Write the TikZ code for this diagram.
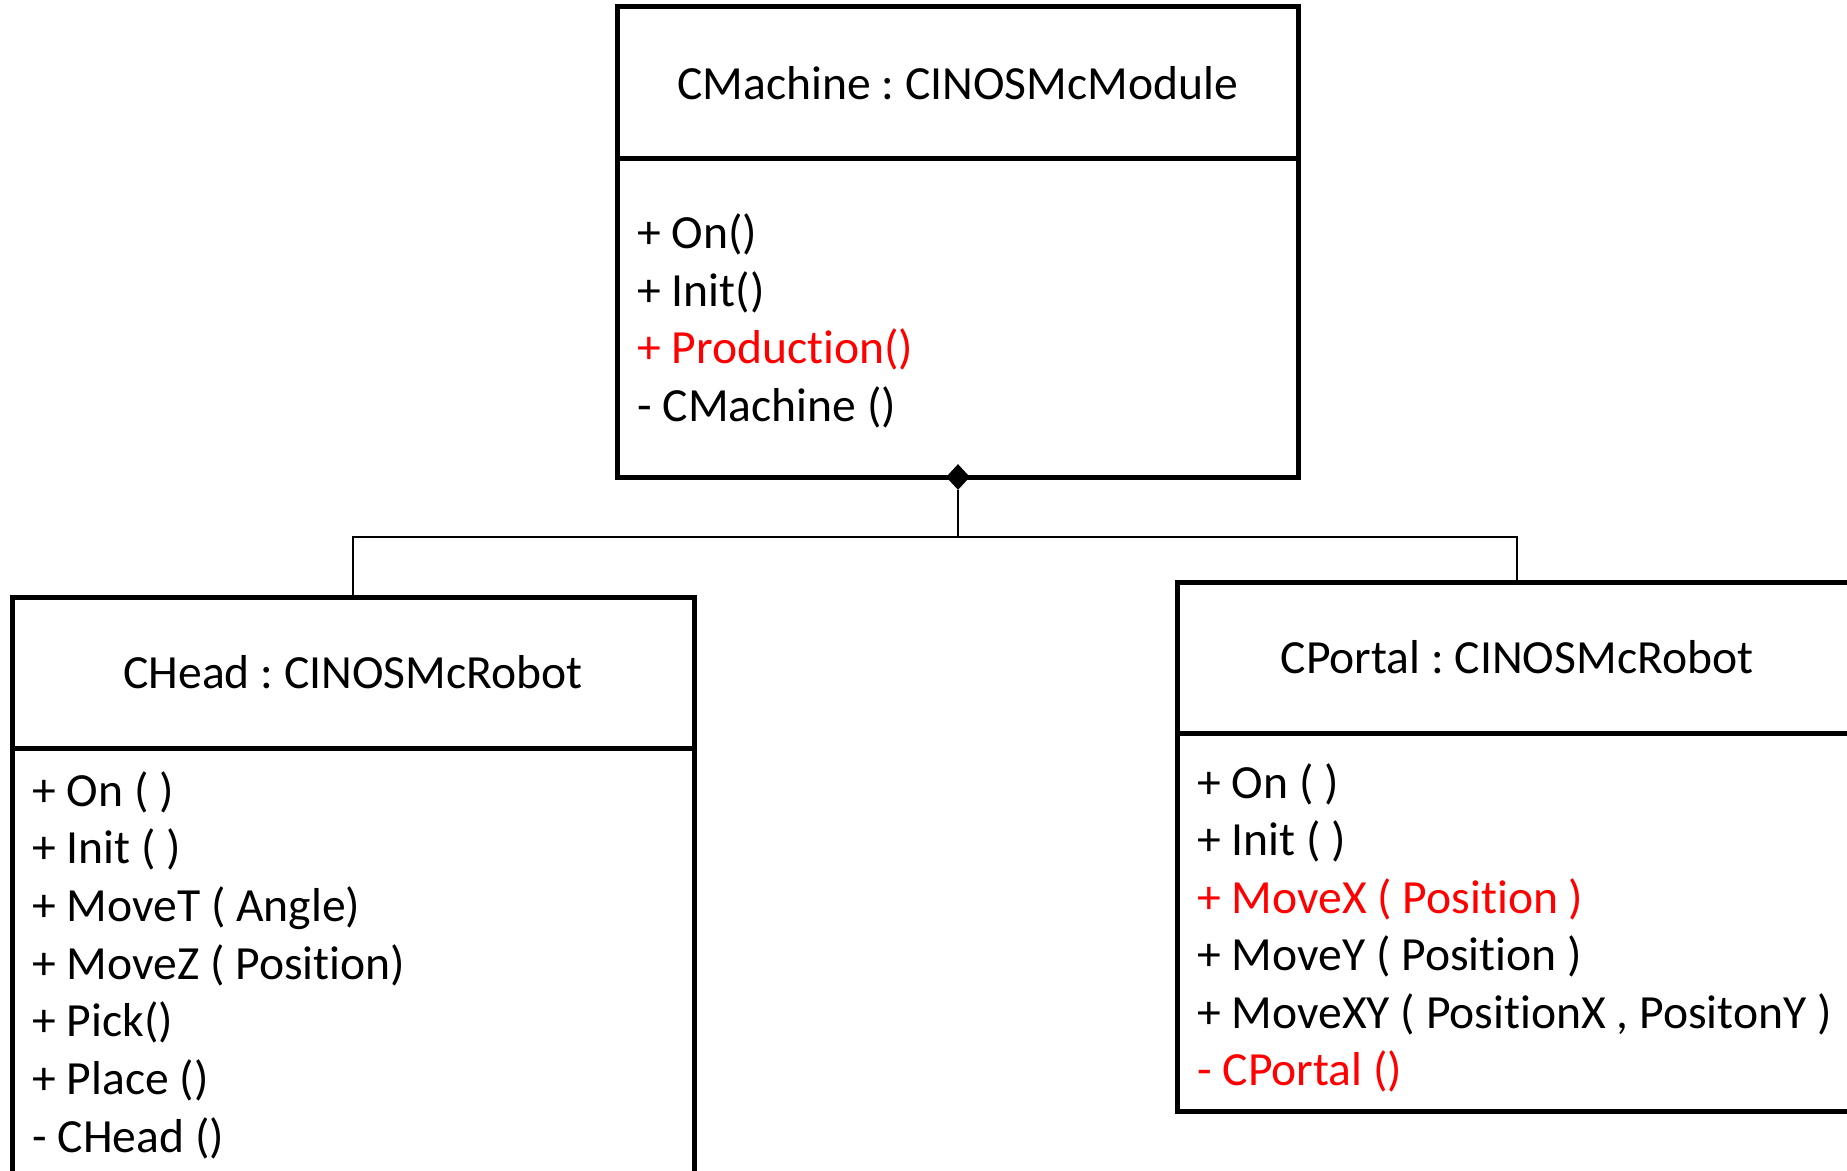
\documentclass[tikz,border=0pt]{standalone}
\usepackage{fontspec}
\setmainfont{Carlito}[Ligatures=NoCommon]
\usetikzlibrary{shapes.geometric}
\frenchspacing
\begin{document}
\begin{tikzpicture}[x=0.5pt,y=-0.5pt,
  umlfont/.style={font=\fontsize{23.8}{28}\selectfont},
  box/.style={draw,line width=2.5pt,rectangle,inner sep=0pt,outer sep=0pt,umlfont},
  lbl/.style={umlfont,inner sep=0pt,anchor=base west},
  hl/.style={text=red},
  conn/.style={line width=1.1pt},
  comp/.style={diamond,fill=black,inner sep=0pt,minimum width=12pt,minimum height=13pt}]
\useasboundingbox (0,0) rectangle (1847,1171);
\clip (0,0) rectangle (1847,1171);

% CMachine
\node[box,minimum width=340.5pt,minimum height=76pt] (mach-h) at (957.5,83) {CMachine : CINOSMcModule};
\node[box,minimum width=340.5pt,minimum height=159pt,anchor=north] (mach-b) at (mach-h.south) {};
\node[lbl] (mach-m1) at (637,249) {+ On()};
\node[lbl] (mach-m2) at (637,306.5) {+ Init()};
\node[lbl,hl] (mach-m3) at (637,364) {+ Production()};
\node[lbl] (mach-m4) at (637,421.5) {- CMachine ()};

% CHead
\node[box,minimum width=341pt,minimum height=75.5pt] (head-h) at (353,672.5) {CHead : CINOSMcRobot};
\node[box,minimum width=341pt,minimum height=256pt,anchor=north] (head-b) at (head-h.south) {};
\node[lbl] (head-m1) at (32,806) {+ On ( )};
\node[lbl] (head-m2) at (32,863.7) {+ Init ( )};
\node[lbl] (head-m3) at (32,921.4) {+ MoveT ( Angle)};
\node[lbl] (head-m4) at (32,979.1) {+ MoveZ ( Position)};
\node[lbl] (head-m5) at (32,1036.8) {+ Pick()};
\node[lbl] (head-m6) at (32,1094.5) {+ Place ()};
\node[lbl] (head-m7) at (32,1152.2) {- CHead ()};

% CPortal
\node[box,minimum width=340pt,minimum height=75.5pt] (port-h) at (1517,657.5) {CPortal : CINOSMcRobot};
\node[box,minimum width=340pt,minimum height=189pt,anchor=north] (port-b) at (port-h.south) {};
\node[lbl] (port-m1) at (1197,798) {+ On ( )};
\node[lbl] (port-m2) at (1197,855.5) {+ Init ( )};
\node[lbl,hl] (port-m3) at (1197,913) {+ MoveX ( Position )};
\node[lbl] (port-m4) at (1197,970.5) {+ MoveY ( Position )};
\node[lbl] (port-m5) at (1197,1028) {+ MoveXY ( PositionX , PositonY )};
\node[lbl,hl] (port-m6) at (1197,1085.5) {- CPortal ()};

% composition connectors
\node[comp] (dia) at (958,477) {};
\coordinate (junc) at (958,537);
\draw[conn] (dia.south) -- (junc) -| (head-h.north);
\draw[conn] (junc) -| (port-h.north);
\end{tikzpicture}
\end{document}
